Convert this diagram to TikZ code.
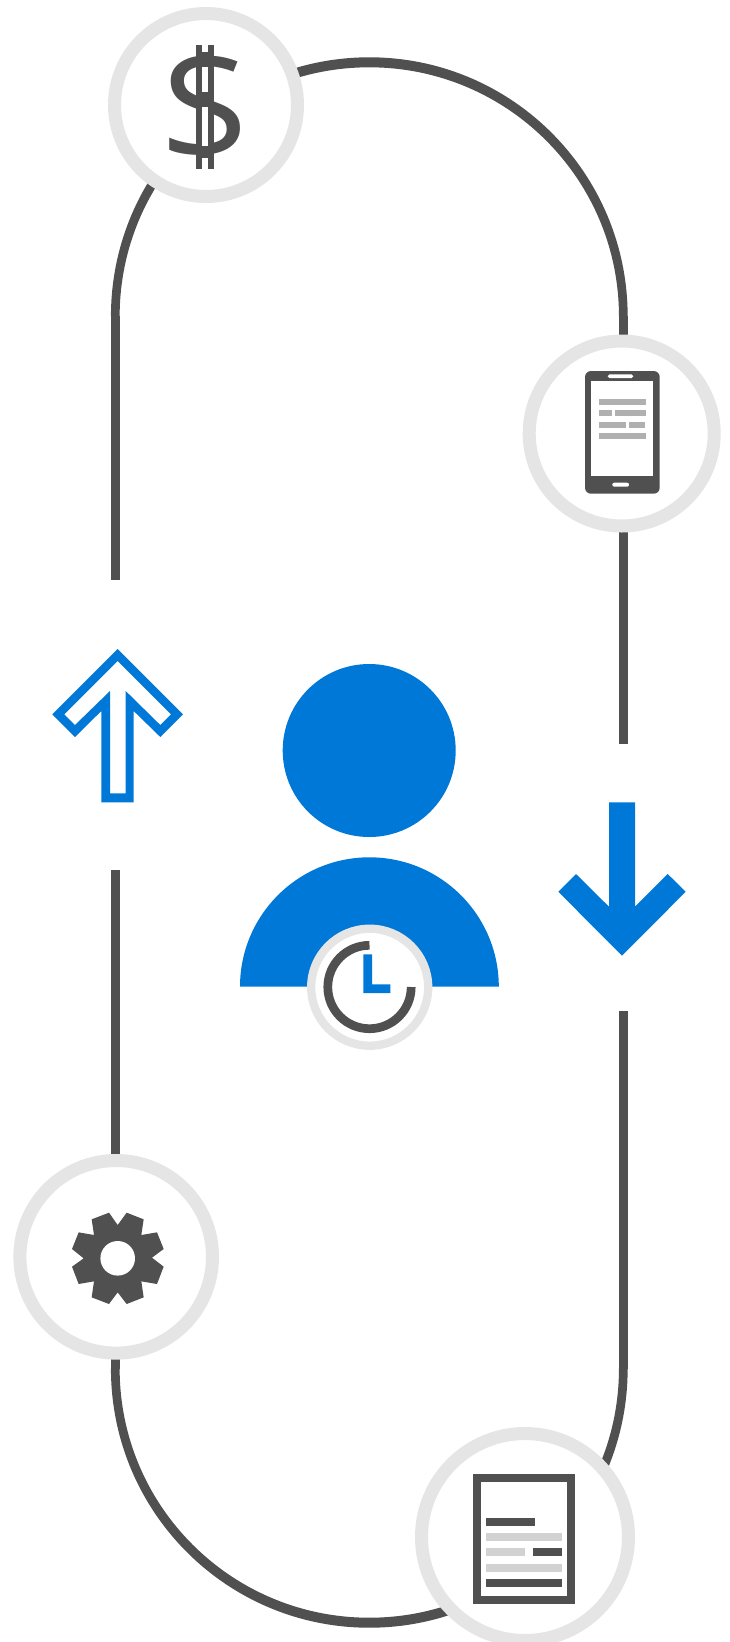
\documentclass[tikz,border=0pt]{standalone}
\usepackage{fontspec}
\newfontfamily\dollarfont{Open Sans}
\definecolor{ink}{HTML}{505050}
\definecolor{ringgrey}{HTML}{E5E5E5}
\definecolor{msblue}{HTML}{0078D7}
\definecolor{barmid}{HTML}{B0B0B0}
\definecolor{barlight}{HTML}{D2D2D2}
\tikzset{
  route/.style={draw=ink,line width=8.7pt},
  ring/.style={circle,draw=ringgrey,fill=white,line width=13pt,inner sep=0pt,outer sep=0pt},
  darkfill/.style={fill=ink,draw=none},
  bluefill/.style={fill=msblue,draw=none},
  midbar/.style={fill=barmid,draw=none},
  lightbar/.style={fill=barlight,draw=none},
  paper/.style={fill=white,draw=none},
}
\begin{document}
\begin{tikzpicture}[x=1pt,y=1pt]
\useasboundingbox (0,0) rectangle (729,-1642);
\fill[white] (0,0) rectangle (729,-1642);
% route end points
\coordinate (tl) at (115.3,-580);
\coordinate (tlb) at (115.3,-316.3);
\coordinate (trb) at (623.3,-316.3);
\coordinate (tr) at (623.3,-744);
\coordinate (bl) at (115.3,-870);
\coordinate (blb) at (115.3,-1368.7);
\coordinate (brb) at (623.3,-1368.7);
\coordinate (br) at (623.3,-1011);
\draw[route] (tl) -- (tlb);
\draw[route] (trb) -- (tr);
\draw[route] (bl) -- (blb);
\draw[route] (brb) -- (br);
\fill[darkfill] (110.95,-316.3) arc[start angle=180,end angle=0,x radius=258.35pt,y radius=259pt]
  -- (618.95,-316.3) arc[start angle=0,end angle=180,x radius=249.65pt,y radius=249pt] -- cycle;
\fill[darkfill] (110.95,-1368.7) arc[start angle=180,end angle=360,x radius=258.35pt,y radius=259pt]
  -- (618.95,-1368.7) arc[start angle=360,end angle=180,x radius=249.65pt,y radius=249pt] -- cycle;
% rings
\node[ring,minimum size=183pt] (money) at (206,-105) {};
\node[ring,minimum size=185pt] (tablet) at (621.7,-433.5) {};
\node[ring,minimum size=192.6pt] (gear) at (116.2,-1256.8) {};
\node[ring,minimum size=207pt] (doc) at (525,-1537) {};
% dollar
\node[text=ink,inner sep=0pt] (dollar) at (205.2,-107) {\dollarfont\fontsize{160}{160}\selectfont\$};
\fill[paper] (196,-30) rectangle (214.3,-44.7);
\fill[paper] (196,-168.7) rectangle (214.3,-185);
\fill[paper] (201,-44.7) rectangle (209.3,-52);
\fill[paper] (201,-67) rectangle (209.3,-92);
\fill[paper] (201,-107) rectangle (209.3,-146);
\fill[paper] (201,-158) rectangle (209.3,-168.7);
\fill[darkfill] (196,-44.7) rectangle (202,-168.7);
\fill[darkfill] (208.3,-44.7) rectangle (214.3,-168.7);
% tablet
\fill[darkfill,rounded corners=6pt] (585,-371) rectangle (659.7,-493.7);
\fill[paper] (591.3,-381.3) rectangle (653,-476.3);
\fill[paper,rounded corners=1.8pt] (607.7,-374.3) rectangle (633.3,-378);
\fill[paper,rounded corners=2pt] (612.3,-482.7) rectangle (629,-486.7);
\fill[midbar] (599,-399) rectangle (646,-405);
\fill[midbar] (599,-410) rectangle (612,-416);
\fill[midbar] (615,-410) rectangle (646,-416);
\fill[midbar] (599,-422) rectangle (626,-428);
\fill[midbar] (629,-422) rectangle (645,-428);
\fill[midbar] (599,-433) rectangle (646,-439);
% gear
\begin{scope}[shift={(0pt,-1140pt)},x=0.33333pt,y=-0.33333pt]
\fill[darkfill] (353,255) -- (380,218) -- (431,238) -- (424,285) -- (471,277) -- (491,327) -- (456,353) -- (491,380) -- (471,432) -- (424,424) -- (431,472) -- (380,492) -- (353,457) -- (327,492) -- (275,472) -- (282,424) -- (236,432) -- (216,380) -- (251,355) -- (216,327) -- (236,277) -- (282,285) -- (275,238) -- (327,218) -- cycle;
\end{scope}
\fill[paper] (117.7,-1258.3) circle[radius=17.3pt];
% document
\fill[darkfill] (473,-1474) rectangle (575.3,-1604);
\fill[paper] (481.3,-1482.3) rectangle (567,-1595.7);
\fill[darkfill] (486,-1518) rectangle (535,-1526);
\fill[lightbar] (486,-1533) rectangle (562,-1541);
\fill[lightbar] (486,-1548) rectangle (525,-1556);
\fill[darkfill] (533,-1548) rectangle (562,-1556);
\fill[lightbar] (486,-1564) rectangle (562,-1572);
\fill[darkfill] (486,-1579) rectangle (562,-1587);
% up arrow
\fill[bluefill,even odd rule]
  (117.7,-649) -- (183,-714.3) -- (160.3,-737) -- (133.7,-711) -- (133.7,-802.3) -- (101.3,-802.3) -- (101.3,-711) -- (75,-737) -- (52.3,-714.3) -- cycle
  (117.7,-661) -- (171,-714.3) -- (160.3,-725) -- (125.7,-691) -- (125.7,-793.3) -- (110,-793.3) -- (110,-691) -- (75,-725) -- (64.3,-714.3) -- cycle;
% down arrow
\fill[bluefill] (609,-802.3) -- (635,-802.3) -- (635,-906.7) -- (667.7,-874) -- (685.7,-891.7) -- (622,-955.7) -- (558.3,-891.7) -- (576,-874) -- (609,-906.7) -- cycle;
% person
\fill[bluefill] (369.2,-750.5) circle[radius=86.5pt];
\fill[bluefill] (240,-986.7) arc[start angle=180,end angle=0,radius=129.4pt] -- cycle;
\node[circle,draw=ringgrey,fill=white,line width=8.3pt,inner sep=0pt,outer sep=0pt,minimum size=117pt] (clock) at (369.7,-987.2) {};
\draw[ink,line width=8.7pt] (369.5,-945.3) arc[start angle=90,end angle=360,radius=41.7pt];
\fill[bluefill] (363.3,-954.3) -- (372,-954.3) -- (372,-984.3) -- (390.3,-984.3) -- (390.3,-993) -- (363.3,-993) -- cycle;
\end{tikzpicture}
\end{document}
